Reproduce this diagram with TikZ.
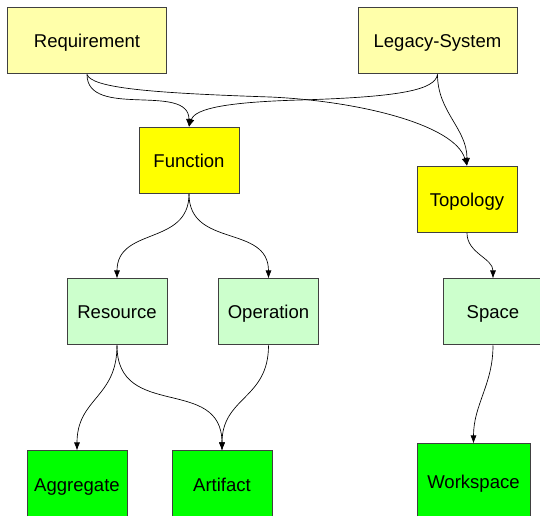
\documentclass[tikz,border=0pt]{standalone}
\usepackage{fontspec}
\setmainfont{Liberation Sans}
\usetikzlibrary{arrows.meta}

\begin{document}
\begin{tikzpicture}[x=0.75pt,y=0.75pt,yscale=-1,xscale=1,
    box/.style={draw={rgb, 255:red, 64; green, 64; blue, 64 },line width=0.75pt,inner sep=0pt,
      minimum width=75pt,minimum height=49.5pt,text height=12pt,text depth=1.5pt,
      font=\fontsize{13.9}{16}\selectfont},
    pale/.style={box,fill={rgb, 255:red, 255; green, 255; blue, 170 }},
    bright/.style={box,fill={rgb, 255:red, 255; green, 255; blue, 0 }},
    mint/.style={box,fill={rgb, 255:red, 204; green, 255; blue, 204 }},
    lime/.style={box,fill={rgb, 255:red, 0; green, 255; blue, 0 },minimum height=51pt},
    edge/.style={line width=0.5pt,-{Latex[length=6pt,width=4.5pt]}}]
        \useasboundingbox (0,0) rectangle (540,516);

        % top row
        \node (req) at (87,41) [pale,minimum width=119.25pt] {Requirement};
        \node (legacy) at (437.5,41) [pale,minimum width=119.25pt] {Legacy-System};
        % second row
        \node (func) at (189,160.5) [bright] {Function};
        \node (topo) at (467,199.5) [bright] {Topology};
        % third row
        \node (res) at (117,312) [mint] {Resource};
        \node (oper) at (268.5,312) [mint] {Operation};
        \node (space) at (493,312) [mint] {Space};
        % bottom row
        \node (aggr) at (77,485) [lime] {Aggregate};
        \node (artif) at (222,485) [lime] {Artifact};
        \node (wspace) at (473.5,482) [lime,minimum width=84.75pt,minimum height=57pt] {Workspace};

        \draw [edge] (req.south) to [out=90,in=-90] (func.north);
        \draw [edge] (req.south) .. controls (92,88) and (150,93) .. (270,97) .. controls (360,101) and (455,125) .. (topo.north);
        \draw [edge] (legacy.south) .. controls (435,90) and (400,97) .. (300,100) .. controls (230,102) and (195,108) .. (func.north);
        \draw [edge] (legacy.south) to [out=90,in=-90] (topo.north);

        \draw [edge] (func.south) to [out=90,in=-90,looseness=1.2] (res.north);
        \draw [edge] (func.south) to [out=90,in=-90,looseness=1.2] (oper.north);
        \draw [edge] (topo.south) to [out=90,in=-90] (space.north);

        \draw [edge] (res.south) to [out=90,in=-90,looseness=1.2] (aggr.north);
        \draw [edge] (res.south) to [out=90,in=-90,looseness=1.3] (artif.north);
        \draw [edge] (oper.south) to [out=90,in=-90,looseness=1.2] (artif.north);
        \draw [edge] (space.south) to [out=90,in=-90] (wspace.north);
\end{tikzpicture}
\end{document}
